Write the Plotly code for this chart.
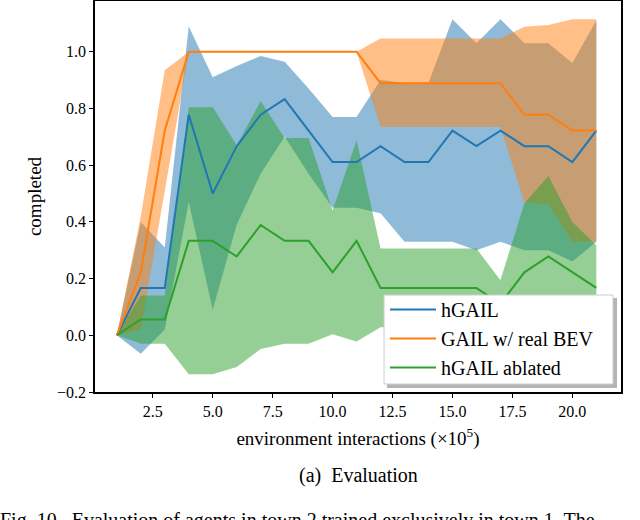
import plotly.graph_objects as go

# ---------------- data ----------------
steps = list(range(1, 22))

hgail_mean = [0.0, 0.167, 0.167, 0.778, 0.5, 0.667, 0.778, 0.833, 0.722, 0.611, 0.611,
              0.667, 0.611, 0.611, 0.722, 0.667, 0.722, 0.667, 0.667, 0.611, 0.722]
hgail_upper = [0.0, 0.40, 0.31, 1.09, 0.91, 0.95, 0.985, 0.965, 0.87, 0.77, 0.77,
               0.90, 0.89, 0.89, 1.115, 1.03, 1.115, 1.03, 1.03, 0.96, 1.11]
hgail_lower = [0.0, -0.065, 0.02, 0.47, 0.09, 0.39, 0.57, 0.70, 0.57, 0.45, 0.45,
               0.43, 0.33, 0.33, 0.33, 0.30, 0.33, 0.30, 0.30, 0.26, 0.33]

gail_mean = [0.0, 0.222, 0.722, 1.0, 1.0, 1.0, 1.0, 1.0, 1.0, 1.0, 1.0,
             0.889, 0.889, 0.889, 0.889, 0.889, 0.889, 0.778, 0.778, 0.722, 0.722]
gail_upper = [0.0, 0.42, 0.935, 1.0, 1.0, 1.0, 1.0, 1.0, 1.0, 1.0, 1.0,
              1.047, 1.047, 1.047, 1.047, 1.047, 1.047, 1.088, 1.094, 1.115, 1.115]
gail_lower = [0.0, 0.02, 0.51, 1.0, 1.0, 1.0, 1.0, 1.0, 1.0, 1.0, 1.0,
              0.735, 0.735, 0.735, 0.735, 0.735, 0.735, 0.468, 0.462, 0.33, 0.33]

abl_mean = [0.0, 0.056, 0.056, 0.333, 0.333, 0.278, 0.389, 0.333, 0.333, 0.222, 0.333,
            0.167, 0.167, 0.167, 0.167, 0.167, 0.111, 0.222, 0.278, 0.222, 0.167]
abl_upper = [0.0, 0.14, 0.14, 0.804, 0.804, 0.67, 0.826, 0.696, 0.696, 0.44, 0.688,
             0.306, 0.306, 0.306, 0.306, 0.306, 0.194, 0.465, 0.562, 0.40, 0.318]
abl_lower = [0.0, -0.03, -0.03, -0.137, -0.137, -0.112, -0.048, -0.03, -0.03, 0.004, -0.022,
             0.028, 0.028, 0.028, 0.028, 0.028, 0.028, -0.02, -0.006, 0.044, 0.016]

series_names = ["hGAIL", "GAIL w/ real BEV", "hGAIL ablated"]
x_tickvals = [2.5, 5.0, 7.5, 10.0, 12.5, 15.0, 17.5, 20.0]
x_ticktext = ["2.5", "5.0", "7.5", "10.0", "12.5", "15.0", "17.5", "20.0"]
y_tickvals = [-0.2, 0.0, 0.2, 0.4, 0.6, 0.8, 1.0]
y_ticktext = ["\u22120.2", "0.0", "0.2", "0.4", "0.6", "0.8", "1.0"]

# ---------------- styling ----------------
FONT = "Liberation Serif"
line_colors = ["#1f77b4", "#ff7f0e", "#2ca02c"]
fill_colors = ["rgba(31,119,180,0.5)", "rgba(255,127,14,0.5)", "rgba(44,160,44,0.5)"]

L, R, T, B = 95, 19, 1, 128
PW, PH = 640 - L - R, 520 - T - B


def px_x(px):
    return (px - L) / PW


def px_y(py):
    return (520 - B - py) / PH


fig = go.Figure()

bands = [(hgail_lower, hgail_upper), (gail_lower, gail_upper), (abl_lower, abl_upper)]
means = [hgail_mean, gail_mean, abl_mean]

for (lo, up), fc in zip(bands, fill_colors):
    fig.add_trace(go.Scatter(
        x=steps + steps[::-1], y=up + lo[::-1],
        fill="toself", fillcolor=fc, mode="lines", line=dict(width=0),
        hoverinfo="skip", showlegend=False))

for name, m, lc in zip(series_names, means, line_colors):
    fig.add_trace(go.Scatter(
        x=steps, y=m, mode="lines", name=name,
        line=dict(color=lc, width=2)))

# legend frame with matplotlib-style shadow
fig.add_shape(type="rect", xref="paper", yref="paper",
              x0=px_x(387), x1=px_x(617), y0=px_y(388), y1=px_y(298),
              fillcolor="#b4b4b4", line=dict(width=0), layer="above")
fig.add_shape(type="rect", xref="paper", yref="paper",
              x0=px_x(384), x1=px_x(613), y0=px_y(384), y1=px_y(295),
              fillcolor="white", line=dict(width=1, color="#cccccc"), layer="above")

fig.update_layout(
    width=640, height=520,
    margin=dict(l=L, r=R, t=T, b=B, autoexpand=False),
    paper_bgcolor="white", plot_bgcolor="white",
    font=dict(family=FONT, size=16, color="black"),
    showlegend=True,
    legend=dict(x=px_x(385), y=px_y(290), xanchor="left", yanchor="top",
                bgcolor="rgba(0,0,0,0)", borderwidth=0,
                font=dict(family=FONT, size=20), itemwidth=46),
    xaxis=dict(range=[0.09, 22.03], tickvals=x_tickvals, ticktext=x_ticktext,
               ticks="outside", ticklen=4, tickcolor="black", tickwidth=1,
               showline=True, mirror=True, linecolor="black", linewidth=1.5,
               showgrid=False, zeroline=False, automargin=False,
               title=dict(text="environment interactions (\u00d710<sup>5</sup>)",
                          font=dict(size=19), standoff=13)),
    yaxis=dict(range=[-0.2, 1.179], tickvals=y_tickvals, ticktext=y_ticktext,
               ticks="outside", ticklen=4, tickcolor="black", tickwidth=1,
               showline=True, mirror=True, linecolor="black", linewidth=1.5,
               showgrid=False, zeroline=False, automargin=False,
               title=dict(text="completed", font=dict(size=19), standoff=10)),
)

fig.add_annotation(text="(a)  Evaluation", xref="paper", yref="paper",
                   x=0.5, y=px_y(475), xanchor="center", yanchor="middle",
                   showarrow=False, font=dict(family=FONT, size=20))
fig.add_annotation(text="Fig. 10.  Evaluation of agents in town 2 trained exclusively in town 1. The",
                   xref="paper", yref="paper", x=px_x(-2), y=px_y(520),
                   xanchor="left", yanchor="middle",
                   showarrow=False, font=dict(family=FONT, size=20))

fig.write_html("out.html", config={"displayModeBar": False},
               post_script="document.body.style.margin='0';")
